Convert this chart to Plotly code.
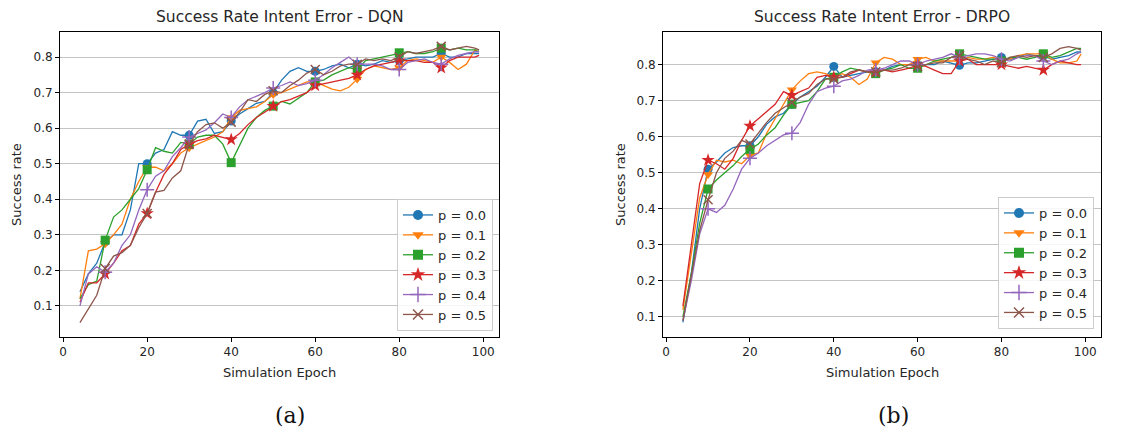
import plotly.graph_objects as go

EPOCHS = [4, 6, 8, 10, 12, 14, 16, 18, 20, 22, 24, 26, 28, 30, 32, 34, 36, 38, 40, 42,
          44, 46, 48, 50, 52, 54, 56, 58, 60, 62, 64, 66, 68, 70, 72, 74, 76, 78, 80, 82,
          84, 86, 88, 90, 92, 94, 96, 98, 99]
MARK_EPOCHS = [10, 20, 30, 40, 50, 60, 70, 80, 90]
LABELS = ["p = 0.0", "p = 0.1", "p = 0.2", "p = 0.3", "p = 0.4", "p = 0.5"]
X_TICKS = [0, 20, 40, 60, 80, 100]
Y_TICKS = [0.1, 0.2, 0.3, 0.4, 0.5, 0.6, 0.7, 0.8]

# ---- DQN ----
dqn_p00 = [0.14, 0.19, 0.22, 0.28, 0.30, 0.30, 0.37, 0.50, 0.50, 0.53, 0.54, 0.59, 0.58, 0.58, 0.62, 0.625,
           0.585, 0.59, 0.62, 0.64, 0.655, 0.67, 0.675, 0.70, 0.735, 0.76, 0.77, 0.76, 0.76, 0.765, 0.775,
           0.78, 0.77, 0.78, 0.775, 0.78, 0.79, 0.785, 0.79, 0.795, 0.80, 0.80, 0.80, 0.81, 0.80, 0.80,
           0.81, 0.81, 0.81]
dqn_p01 = [0.12, 0.255, 0.26, 0.275, 0.30, 0.33, 0.40, 0.45, 0.49, 0.49, 0.48, 0.50, 0.53, 0.545, 0.555,
           0.565, 0.575, 0.59, 0.63, 0.65, 0.655, 0.66, 0.675, 0.695, 0.70, 0.71, 0.72, 0.73, 0.73, 0.72,
           0.71, 0.705, 0.715, 0.738, 0.765, 0.775, 0.77, 0.765, 0.77, 0.79, 0.795, 0.79, 0.785, 0.80,
           0.785, 0.765, 0.78, 0.82, 0.815]
dqn_p02 = [0.12, 0.16, 0.17, 0.285, 0.35, 0.37, 0.40, 0.43, 0.483, 0.545, 0.535, 0.53, 0.56, 0.555, 0.575,
           0.58, 0.58, 0.555, 0.503, 0.55, 0.60, 0.63, 0.65, 0.662, 0.675, 0.668, 0.685, 0.70, 0.73, 0.735,
           0.75, 0.76, 0.77, 0.765, 0.79, 0.795, 0.80, 0.805, 0.812, 0.815, 0.81, 0.81, 0.815, 0.825, 0.82,
           0.825, 0.82, 0.82, 0.82]
dqn_p03 = [0.11, 0.165, 0.165, 0.19, 0.22, 0.255, 0.27, 0.33, 0.36, 0.42, 0.47, 0.50, 0.54, 0.555, 0.565,
           0.57, 0.58, 0.575, 0.568, 0.585, 0.61, 0.63, 0.645, 0.662, 0.675, 0.68, 0.69, 0.70, 0.72, 0.725,
           0.73, 0.735, 0.74, 0.75, 0.765, 0.775, 0.78, 0.785, 0.79, 0.79, 0.79, 0.785, 0.785, 0.77, 0.79,
           0.80, 0.80, 0.80, 0.805]
dqn_p04 = [0.10, 0.19, 0.21, 0.195, 0.22, 0.27, 0.30, 0.37, 0.427, 0.465, 0.48, 0.52, 0.545, 0.575, 0.585,
           0.595, 0.615, 0.64, 0.63, 0.66, 0.68, 0.69, 0.70, 0.713, 0.72, 0.73, 0.72, 0.725, 0.735, 0.75,
           0.77, 0.785, 0.80, 0.78, 0.78, 0.78, 0.775, 0.765, 0.765, 0.785, 0.79, 0.795, 0.785, 0.78, 0.795,
           0.805, 0.81, 0.815, 0.815]
dqn_p05 = [0.053, 0.09, 0.13, 0.205, 0.24, 0.25, 0.27, 0.32, 0.36, 0.42, 0.425, 0.46, 0.48, 0.555, 0.59,
           0.61, 0.615, 0.60, 0.617, 0.645, 0.68, 0.675, 0.695, 0.705, 0.70, 0.72, 0.735, 0.755, 0.765, 0.75,
           0.76, 0.775, 0.78, 0.78, 0.795, 0.79, 0.795, 0.79, 0.80, 0.815, 0.81, 0.815, 0.82, 0.83, 0.82,
           0.825, 0.83, 0.825, 0.82]

# ---- DRPO ----
drpo_p00 = [0.085, 0.22, 0.40, 0.51, 0.53, 0.555, 0.57, 0.575, 0.575, 0.60, 0.635, 0.655, 0.665, 0.69, 0.71,
            0.725, 0.74, 0.765, 0.795, 0.765, 0.77, 0.775, 0.78, 0.78, 0.785, 0.795, 0.80, 0.80, 0.80, 0.80,
            0.80, 0.81, 0.805, 0.798, 0.805, 0.805, 0.81, 0.815, 0.82, 0.815, 0.82, 0.83, 0.825, 0.825, 0.815,
            0.82, 0.825, 0.835, 0.835]
drpo_p01 = [0.12, 0.27, 0.43, 0.495, 0.535, 0.53, 0.535, 0.525, 0.548, 0.555, 0.61, 0.65, 0.69, 0.73, 0.755,
            0.775, 0.78, 0.775, 0.765, 0.775, 0.765, 0.745, 0.76, 0.805, 0.82, 0.815, 0.80, 0.80, 0.815, 0.82,
            0.81, 0.81, 0.81, 0.81, 0.82, 0.815, 0.815, 0.82, 0.815, 0.815, 0.825, 0.83, 0.83, 0.83, 0.815,
            0.805, 0.805, 0.81, 0.83]
drpo_p02 = [0.10, 0.22, 0.36, 0.455, 0.48, 0.50, 0.52, 0.545, 0.565, 0.58, 0.605, 0.625, 0.66, 0.69, 0.695,
            0.70, 0.725, 0.76, 0.765, 0.78, 0.79, 0.785, 0.78, 0.775, 0.785, 0.79, 0.80, 0.79, 0.79, 0.80,
            0.81, 0.815, 0.82, 0.83, 0.825, 0.82, 0.815, 0.815, 0.81, 0.82, 0.82, 0.815, 0.82, 0.83, 0.82,
            0.825, 0.835, 0.845, 0.845]
drpo_p03 = [0.13, 0.30, 0.47, 0.535, 0.525, 0.51, 0.54, 0.59, 0.63, 0.65, 0.67, 0.69, 0.725, 0.715, 0.725,
            0.735, 0.765, 0.77, 0.765, 0.765, 0.775, 0.785, 0.78, 0.78, 0.785, 0.78, 0.785, 0.79, 0.80, 0.795,
            0.785, 0.775, 0.775, 0.81, 0.815, 0.80, 0.80, 0.80, 0.80, 0.795, 0.79, 0.795, 0.79, 0.785, 0.80,
            0.81, 0.805, 0.80, 0.80]
drpo_p04 = [0.09, 0.20, 0.33, 0.40, 0.39, 0.41, 0.455, 0.51, 0.54, 0.555, 0.575, 0.59, 0.605, 0.61, 0.64,
            0.69, 0.725, 0.735, 0.74, 0.755, 0.76, 0.77, 0.785, 0.785, 0.79, 0.80, 0.81, 0.81, 0.80, 0.81,
            0.815, 0.82, 0.83, 0.82, 0.825, 0.83, 0.83, 0.825, 0.815, 0.81, 0.82, 0.825, 0.825, 0.81, 0.80,
            0.81, 0.815, 0.83, 0.835]
drpo_p05 = [0.09, 0.21, 0.34, 0.425, 0.50, 0.54, 0.56, 0.59, 0.58, 0.61, 0.64, 0.665, 0.68, 0.695, 0.71,
            0.72, 0.745, 0.76, 0.76, 0.765, 0.78, 0.785, 0.78, 0.78, 0.785, 0.785, 0.79, 0.80, 0.795, 0.80,
            0.805, 0.805, 0.82, 0.825, 0.815, 0.81, 0.80, 0.81, 0.805, 0.82, 0.825, 0.82, 0.825, 0.82, 0.83,
            0.845, 0.85, 0.845, 0.84]

DQN_SERIES = [dqn_p00, dqn_p01, dqn_p02, dqn_p03, dqn_p04, dqn_p05]
DRPO_SERIES = [drpo_p00, drpo_p01, drpo_p02, drpo_p03, drpo_p04, drpo_p05]

COLORS = ["#1f77b4", "#ff7f0e", "#2ca02c", "#d62728", "#9467bd", "#8c564b"]
SYMBOLS = ["circle", "triangle-down", "square", "star", "cross-thin", "x-thin"]
MSIZES = [9, 9, 9, 10, 10, 9]

W, H = 1142, 438
TXT = "#262626"
FONT = "DejaVu Sans"
LW = 1.3

fig = go.Figure()


def add_panel(series_list, xa, ya, legend_name):
    for lab, ys, col, sym, ms in zip(LABELS, series_list, COLORS, SYMBOLS, MSIZES):
        n = min(len(EPOCHS), len(ys))
        thin = sym.endswith("thin")
        sizes = [ms if e in MARK_EPOCHS else 0 for e in EPOCHS[:n]]
        mline = dict(color=col, width=1.5 if thin else 0)
        # data trace (no legend entry)
        fig.add_trace(go.Scatter(
            x=EPOCHS[:n], y=ys[:n], mode="lines+markers", name=lab, showlegend=False,
            xaxis=xa, yaxis=ya, legend=legend_name,
            line=dict(color=col, width=LW),
            marker=dict(symbol=sym, size=sizes, color=col, line=mline, opacity=1),
        ))
        # legend key only
        fig.add_trace(go.Scatter(
            x=[None], y=[None], mode="lines+markers", name=lab, showlegend=True,
            xaxis=xa, yaxis=ya, legend=legend_name,
            line=dict(color=col, width=LW),
            marker=dict(symbol=sym, size=ms + 1, color=col, line=mline, opacity=1),
        ))


add_panel(DQN_SERIES, "x", "y", "legend")
add_panel(DRPO_SERIES, "x2", "y2", "legend2")

# axis placement (pixels -> paper)
L1, R1 = 60, 499
L2, R2 = 663, 1101
T, B = 32, 337


def px(x):
    return x / W


def py(y):
    return 1 - y / H


axis_common = dict(
    showline=True, linecolor="black", linewidth=1, mirror=True,
    ticks="outside", ticklen=4, tickcolor="black", tickwidth=1,
    tickfont=dict(family=FONT, size=12, color=TXT),
    zeroline=False,
)

leg_common = dict(xanchor="left", yanchor="top",
                  bgcolor="rgba(255,255,255,0.85)", bordercolor="#cccccc", borderwidth=1,
                  font=dict(family=FONT, size=13, color=TXT), itemsizing="trace",
                  tracegroupgap=0)

fig.update_layout(
    width=W, height=H,
    margin=dict(l=0, r=0, t=0, b=0),
    paper_bgcolor="white", plot_bgcolor="white",
    font=dict(family=FONT, color=TXT),
    xaxis=dict(domain=[px(L1), px(R1)], range=[-0.75, 103.75], tickvals=X_TICKS,
               showgrid=False, anchor="y", **axis_common),
    yaxis=dict(domain=[py(B), py(T)], range=[0.0125, 0.8705], tickvals=Y_TICKS,
               ticktext=[f"{v:.1f}" for v in Y_TICKS],
               showgrid=True, gridcolor="#c4c4c4", gridwidth=1.2, anchor="x", **axis_common),
    xaxis2=dict(domain=[px(L2), px(R2)], range=[-0.75, 103.75], tickvals=X_TICKS,
                showgrid=False, anchor="y2", **axis_common),
    yaxis2=dict(domain=[py(B), py(T)], range=[0.0445, 0.8905], tickvals=Y_TICKS,
                ticktext=[f"{v:.1f}" for v in Y_TICKS],
                showgrid=True, gridcolor="#c4c4c4", gridwidth=1.2, anchor="x2", **axis_common),
    legend=dict(x=px(397), y=py(199), **leg_common),
    legend2=dict(x=px(998), y=py(197), **leg_common),
    showlegend=True,
)

ann = []
for cx, title in [((L1 + R1) / 2, "Success Rate Intent Error - DQN"),
                  ((L2 + R2) / 2, "Success Rate Intent Error - DRPO")]:
    ann.append(dict(x=px(cx), y=py(17), xref="paper", yref="paper", text=title, showarrow=False,
                    xanchor="center", yanchor="middle", font=dict(family=FONT, size=15.5, color=TXT)))
    ann.append(dict(x=px(cx), y=py(372), xref="paper", yref="paper", text="Simulation Epoch",
                    showarrow=False, xanchor="center", yanchor="middle",
                    font=dict(family=FONT, size=13, color=TXT)))
for lx in [16, 620]:
    ann.append(dict(x=px(lx), y=py(185), xref="paper", yref="paper", text="Success rate",
                    showarrow=False, textangle=-90, xanchor="center", yanchor="middle",
                    font=dict(family=FONT, size=13, color=TXT)))
for cx, cap in [(290, "(a)"), (893, "(b)")]:
    ann.append(dict(x=px(cx), y=py(415), xref="paper", yref="paper", text=cap, showarrow=False,
                    xanchor="center", yanchor="middle",
                    font=dict(family="DejaVu Serif", size=22, color="#111111")))
fig.update_layout(annotations=ann)

fig.write_html("out.html", config={"displayModeBar": False},
               post_script="document.body.style.margin='0';document.body.style.overflow='hidden';")
